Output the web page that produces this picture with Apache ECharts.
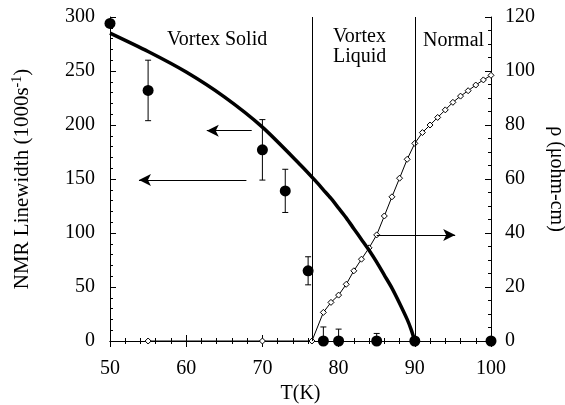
<!DOCTYPE html>
<html>
<head>
<meta charset="utf-8">
<script src="https://cdn.jsdelivr.net/npm/echarts@6/dist/echarts.min.js"></script>
<style>
  html, body { margin: 0; padding: 0; background: #fff; }
  #main { width: 565px; height: 405px; }
</style>
</head>
<body>
<div id="main"></div>
<script>
// NMR linewidth points (filled circles) with error bars
var nmrT = [50, 55, 70, 73, 76, 78, 80, 85, 90, 100];
var nmrWidth = [294, 232, 177, 139, 65, 0, 0, 0, 0, 0];
var nmrErr = [0, 28, 28, 20, 13, 13, 11, 7, 0, 0];

// thick guide curve
var curveT = [50, 55, 60, 65, 70, 75, 77, 78, 79, 80, 81, 82, 83, 84, 85, 86, 87, 88, 89, 89.5, 90];
var curveW = [285, 268, 249, 226, 198, 163, 148, 140, 132, 123, 114, 104, 94, 84, 73, 61, 49, 35, 20, 11, 0];

// resistivity (right axis)
var rhoT = [55, 70, 76.5, 78, 79, 80, 81, 82, 83, 84, 85, 86, 87, 88, 89, 90, 91, 92, 93, 94, 95, 96, 97, 98, 99, 100];
var rho = [0, 0, 0, 10.6, 14.3, 17, 21, 26, 30.3, 34.5, 39.3, 46.3, 53.4, 60.3, 67.3, 73.2, 77.2, 80, 82.8, 85.6, 88.4, 90.7, 92.7, 94.8, 96.7, 98.4];

// phase boundaries
var boundaries = [76.6, 90];

var font = 'Liberation Serif';
var chart = echarts.init(document.getElementById('main'));

function pairs(xs, ys) {
  return xs.map(function (x, i) { return [x, ys[i]]; });
}

var option = {
  backgroundColor: '#fff',
  animation: false,
  textStyle: { fontFamily: font, color: '#000' },
  grid: { left: 110, right: 74, top: 17, bottom: 64, outerBoundsMode: 'none', containLabel: false },
  xAxis: [{
    type: 'value', min: 50, max: 100, interval: 10,
    name: 'T(K)', nameLocation: 'middle', nameGap: 40,
    nameTextStyle: { fontFamily: font, fontSize: 20, color: '#000' },
    axisLine: { show: true, lineStyle: { color: '#000', width: 1 } },
    axisTick: { show: true, inside: true, length: 6, lineStyle: { color: '#000' } },
    minorTick: { show: true, splitNumber: 5, length: 3, lineStyle: { color: '#000' } },
    axisLabel: { margin: 18, fontFamily: font, fontSize: 20, color: '#000' },
    splitLine: { show: false }
  }, {
    type: 'value', min: 50, max: 100, interval: 10, position: 'top',
    axisLine: { show: true, lineStyle: { color: '#000', width: 1 } },
    axisTick: { show: true, inside: true, length: 6, lineStyle: { color: '#000' } },
    minorTick: { show: true, splitNumber: 5, length: 3, lineStyle: { color: '#000' } },
    axisLabel: { show: false },
    splitLine: { show: false }
  }],
  yAxis: [{
    type: 'value', min: 0, max: 300, interval: 50,
    name: 'NMR Linewidth (1000s{sup|-1})', nameLocation: 'middle', nameGap: 76, nameRotate: 90,
    nameTextStyle: {
      fontFamily: font, fontSize: 21, color: '#000',
      rich: { sup: { fontFamily: font, fontSize: 14, color: '#000', padding: [0, 0, 10, 0] } }
    },
    axisLine: { show: true, lineStyle: { color: '#000', width: 1 } },
    axisTick: { show: true, inside: true, length: 6, lineStyle: { color: '#000' } },
    minorTick: { show: true, splitNumber: 5, length: 3, lineStyle: { color: '#000' } },
    axisLabel: { margin: 15, fontFamily: font, fontSize: 20, color: '#000' },
    splitLine: { show: false }
  }, {
    type: 'value', min: 0, max: 120, interval: 20, position: 'right',
    name: 'ρ (μohm-cm)', nameLocation: 'middle', nameGap: 52, nameRotate: -90,
    nameTextStyle: { fontFamily: font, fontSize: 20, color: '#000' },
    axisLine: { show: true, lineStyle: { color: '#000', width: 1 } },
    axisTick: { show: true, inside: true, length: 6, lineStyle: { color: '#000' } },
    minorTick: { show: true, splitNumber: 4, length: 3, lineStyle: { color: '#000' } },
    axisLabel: { margin: 14, fontFamily: font, fontSize: 20, color: '#000' },
    splitLine: { show: false }
  }],
  graphic: [
    { type: 'text', left: 167, top: 30, style: { text: 'Vortex Solid', font: '20px "Liberation Serif"', fill: '#000' } },
    { type: 'text', left: 333, top: 27, style: { text: 'Vortex\nLiquid', font: '20px "Liberation Serif"', fill: '#000', align: 'center', lineHeight: 20 } },
    { type: 'text', left: 423, top: 31, style: { text: 'Normal', font: '20px "Liberation Serif"', fill: '#000' } }
  ],
  series: [
    {
      // resistivity with hollow markers
      type: 'line', yAxisIndex: 1, data: pairs(rhoT, rho),
      symbol: 'diamond', symbolSize: 6, showAllSymbol: true, clip: false,
      lineStyle: { color: '#000', width: 1 },
      itemStyle: { color: '#fff', borderColor: '#000', borderWidth: 1 },
      z: 3,
      markLine: {
        silent: true, symbol: ['none', 'arrow'], symbolSize: [9, 12],
        label: { show: false },
        lineStyle: { color: '#000', width: 1, type: 'solid' },
        data: [[{ coord: [85, 39.3] }, { coord: [95.3, 39.3] }]]
      }
    },
    {
      type: 'line', data: pairs(curveT, curveW), smooth: 0.25,
      symbol: 'none', clip: false,
      lineStyle: { color: '#000', width: 3.5 },
      z: 4,
      markLine: {
        silent: true, symbol: ['none', 'arrow'], symbolSize: [9, 12],
        label: { show: false },
        lineStyle: { color: '#000', width: 1, type: 'solid' },
        data: [
          [{ coord: [68.6, 194.7] }, { coord: [62.7, 194.7] }],
          [{ coord: [67.9, 149] }, { coord: [53.8, 149] }]
        ]
      }
    },
    {
      // phase boundary lines
      type: 'line', data: [],
      markLine: {
        silent: true, symbol: 'none', label: { show: false },
        lineStyle: { color: '#000', width: 1, type: 'solid' },
        data: boundaries.map(function (b) { return { xAxis: b }; })
      }
    },
    {
      type: 'custom',
      data: nmrT.map(function (t, i) { return [t, nmrWidth[i], nmrErr[i]]; }),
      clip: false,
      z: 5,
      renderItem: function (params, api) {
        var x = api.value(0), y = api.value(1), e = api.value(2);
        if (!e) return { type: 'group', children: [] };
        var hi = api.coord([x, y + e]);
        var lo = api.coord([x, Math.max(0, y - e)]);
        var w = 3;
        var st = { stroke: '#000', lineWidth: 1 };
        return {
          type: 'group',
          children: [
            { type: 'line', shape: { x1: hi[0], y1: hi[1], x2: lo[0], y2: lo[1] }, style: st },
            { type: 'line', shape: { x1: hi[0] - w, y1: hi[1], x2: hi[0] + w, y2: hi[1] }, style: st },
            { type: 'line', shape: { x1: lo[0] - w, y1: lo[1], x2: lo[0] + w, y2: lo[1] }, style: st }
          ]
        };
      }
    },
    {
      type: 'scatter', data: pairs(nmrT, nmrWidth),
      symbol: 'circle', symbolSize: 11, clip: false,
      itemStyle: { color: '#000', opacity: 1 },
      z: 6
    }
  ]
};

chart.setOption(option);
</script>
</body>
</html>
